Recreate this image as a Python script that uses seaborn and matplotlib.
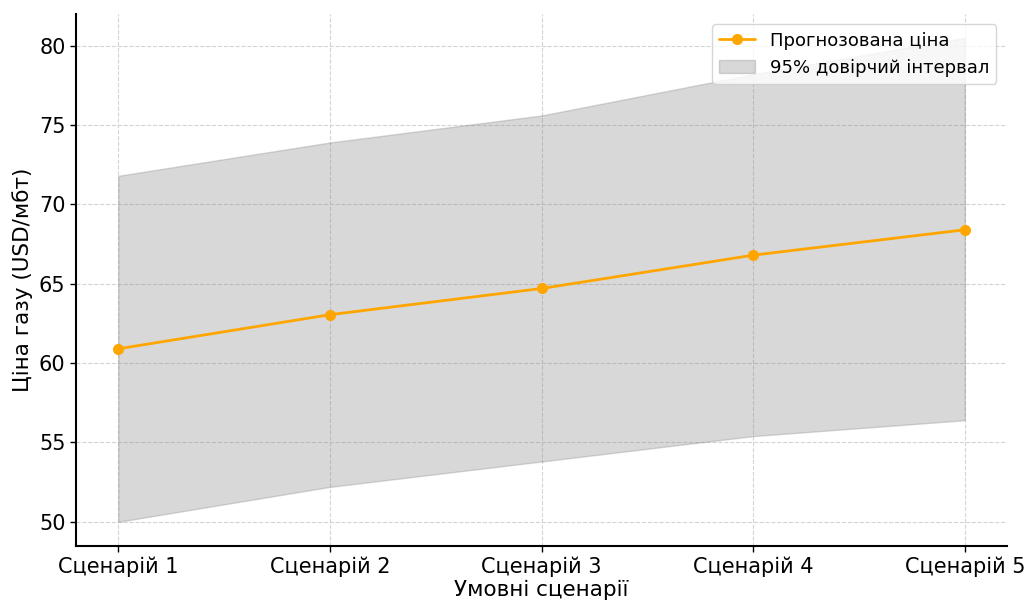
import matplotlib
matplotlib.use("Agg")
import matplotlib.pyplot as plt
import seaborn as sns
import pandas as pd

# Forecast gas price per scenario with 95% confidence bounds
scenarios = ["Сценарій 1", "Сценарій 2", "Сценарій 3", "Сценарій 4", "Сценарій 5"]
forecast = [60.9, 63.05, 64.7, 66.8, 68.4]
lower = [50.0, 52.2, 53.8, 55.4, 56.4]
upper = [71.8, 73.9, 75.6, 78.2, 80.5]

sns.set_style("whitegrid", {"grid.linestyle": "--", "grid.color": "#d0d0d0",
                            "axes.edgecolor": "black", "xtick.bottom": True,
                            "ytick.left": True, "text.color": "black",
                            "axes.labelcolor": "black", "xtick.color": "black",
                            "ytick.color": "black"})
plt.rcParams["font.family"] = ["DejaVu Sans"]

df = pd.DataFrame({"scenario": scenarios, "price": forecast,
                   "lo": lower, "hi": upper})
df["x"] = range(len(df))

fig = plt.figure(figsize=(10.30, 6.01), dpi=100)
ax = fig.add_axes([0.0738, 0.0915, 0.904, 0.886])

band = ax.fill_between(df["x"], df["lo"], df["hi"], color="gray", alpha=0.3,
                       label="95% довірчий інтервал")
sns.lineplot(data=df, x="x", y="price", marker="o", color="orange",
             linewidth=2, markersize=8, markeredgewidth=0,
             label="Прогнозована ціна", ax=ax)

ax.set_xticks(df["x"])
ax.set_xticklabels(scenarios)
ax.set_xlabel("Умовні сценарії", fontsize=15.5, labelpad=2)
ax.set_ylabel("Ціна газу (USD/мбт)", fontsize=15.5)
ax.tick_params(axis="both", labelsize=15, length=4, width=1)
ax.grid(True, linestyle="--", color="#d4d4d4", linewidth=0.8)

for side in ("top", "right"):
    ax.spines[side].set_visible(False)
for side in ("left", "bottom"):
    ax.spines[side].set_linewidth(1.5)
    ax.spines[side].set_color("black")

handles, labels = ax.get_legend_handles_labels()
order = [labels.index("Прогнозована ціна"), labels.index("95% довірчий інтервал")]
ax.legend([handles[i] for i in order], [labels[i] for i in order],
          loc="upper right", fontsize=13, framealpha=0.8,
          borderaxespad=0.6)

fig.savefig("out.png", dpi=100)
